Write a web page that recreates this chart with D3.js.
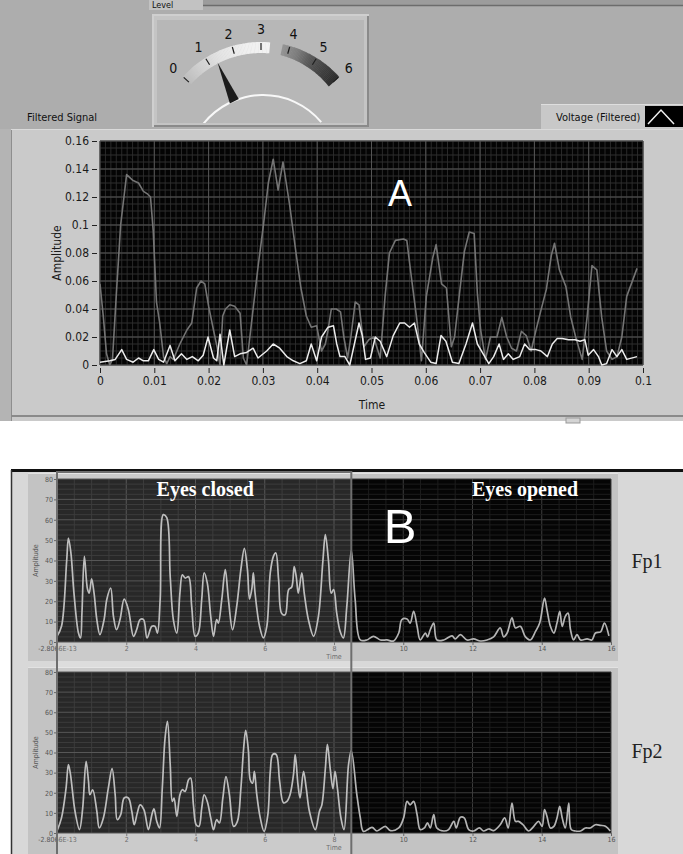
<!DOCTYPE html>
<html><head><meta charset="utf-8">
<script src="https://cdn.jsdelivr.net/npm/d3@7"></script>
<style>body{margin:0;background:#fff}svg{display:block}</style>
</head><body>
<svg id="c" width="683" height="854"></svg>
<script>
// ---------------- DATA ----------------
const gaugeTicks = [0,1,2,3,4,5,6];
const gaugeValue = 1.3;

const aXTicks = [0,0.01,0.02,0.03,0.04,0.05,0.06,0.07,0.08,0.09,0.1];
const aXTickLabels = ["0","0.01","0.02","0.03","0.04","0.05","0.06","0.07","0.08","0.09","0.1"];
const aYTicks = [0,0.02,0.04,0.06,0.08,0.1,0.12,0.14,0.16];
const aYTickLabels = ["0","0.02","0.04","0.06","0.08","0.1","0.12","0.14","0.16"];

// Panel A – raw voltage (dark grey trace), time in ms
const rawTimeMs = [0,0.6,1.2,1.8,2.3,3.0,3.8,4.9,6.0,7.1,8.0,8.8,9.3,9.8,10.4,11.0,11.7,12.3,12.9,13.5,14.7,16.0,16.9,17.8,18.6,19.3,20.0,20.9,21.6,22.1,22.6,23.1,23.9,24.8,25.8,26.4,27.0,27.9,29.1,30.1,31.0,31.9,32.8,33.7,34.9,36.1,37.0,38.0,38.9,39.9,40.8,41.5,42.0,42.6,43.5,44.3,44.9,45.6,46.2,47.0,47.7,48.6,49.5,50.4,51.6,52.5,53.3,54.4,55.9,56.5,57.4,58.3,59.2,60.1,61.3,61.9,62.9,63.8,64.7,65.3,66.2,67.1,68.0,68.9,69.5,70.1,71.0,71.9,73.1,74.0,74.9,75.8,76.7,77.6,78.5,79.4,80.3,81.2,82.2,83.1,83.7,84.6,85.8,86.7,87.6,88.8,89.7,90.6,91.5,92.4,93.3,94.3,95.2,96.1,97.0,98.9];
const rawAmp = [0.058,0.035,0.008,0.0,0.004,0.05,0.1,0.136,0.132,0.13,0.124,0.122,0.12,0.096,0.045,0.03,0.006,0.001,0.006,0.004,0.015,0.025,0.03,0.055,0.06,0.058,0.042,0.025,0.012,0.0,0.035,0.04,0.043,0.042,0.037,0.005,0.0,0.03,0.07,0.1,0.13,0.147,0.125,0.145,0.115,0.08,0.055,0.035,0.027,0.028,0.01,0.015,0.025,0.04,0.04,0.038,0.02,0.005,0.02,0.045,0.043,0.013,0.018,0.02,0.005,0.049,0.08,0.089,0.09,0.089,0.061,0.034,0.003,0.049,0.077,0.086,0.058,0.055,0.013,0.02,0.051,0.081,0.095,0.094,0.051,0.025,0.004,0.02,0.02,0.034,0.02,0.012,0.01,0.024,0.021,0.01,0.025,0.039,0.054,0.078,0.087,0.068,0.056,0.034,0.02,0.004,0.034,0.071,0.068,0.034,0.01,0.004,0.006,0.02,0.049,0.069];

// Panel A – filtered voltage (white trace)
const filtTimeMs = [0,1.8,2.8,4.0,4.9,6.1,7.1,8.0,8.9,9.9,10.8,11.7,12.9,13.8,15.0,16.0,17.0,18.1,19.0,19.9,20.9,21.5,22.1,22.8,23.9,24.8,25.8,27.0,28.2,29.1,30.7,31.9,33.1,34.4,35.6,36.8,38.0,38.9,39.9,40.8,42.0,43.0,43.6,44.2,45.1,46.0,47.7,48.3,48.9,49.8,50.7,51.6,52.8,54.0,55.2,56.1,57.0,57.9,58.8,59.7,60.9,61.9,62.8,63.7,64.9,66.1,67.4,68.6,69.5,70.4,71.6,72.5,73.5,74.3,75.2,76.1,77.3,78.2,79.1,80.3,81.2,82.4,83.3,84.2,85.1,86.3,87.5,88.4,89.3,89.9,90.9,91.8,92.4,93.3,94.3,95.2,96.1,97.0,98.9];
const filtAmp = [0.002,0.003,0.004,0.011,0.004,0.002,0.005,0.003,0.003,0.011,0.004,0.002,0.014,0.003,0.008,0.004,0.006,0.003,0.007,0.02,0.005,0.003,0.022,0.0,0.025,0.006,0.008,0.009,0.012,0.005,0.01,0.015,0.012,0.006,0.003,0.001,0.003,0.015,0.003,0.02,0.027,0.028,0.015,0.006,0.006,0.0,0.03,0.021,0.004,0.005,0.02,0.017,0.006,0.021,0.03,0.03,0.027,0.03,0.015,0.009,0.002,0.001,0.021,0.017,0.002,0.001,0.015,0.03,0.015,0.009,0.001,0.006,0.015,0.004,0.008,0.004,0.006,0.015,0.011,0.011,0.01,0.006,0.015,0.019,0.019,0.018,0.018,0.017,0.018,0.007,0.011,0.006,0.0,0.001,0.011,0.006,0.011,0.004,0.006];

// Panel B
const bXTicks = [2,4,6,8,10,12,14,16];
const bYTicks = [0,10,20,30,40,50,60,70,80];
const bFirstTickLabel = "-2.8066E-13";
const eyesClosedEnd = 8.5;
const channels = ["Fp1","Fp2"];

const fp1Time = [0,0.13,0.28,0.33,0.4,0.49,0.62,0.68,0.72,0.79,0.88,0.93,1.0,1.07,1.15,1.24,1.36,1.44,1.55,1.63,1.72,1.82,1.94,2.06,2.21,2.3,2.4,2.5,2.6,2.74,2.83,2.9,2.98,3.07,3.17,3.27,3.36,3.46,3.55,3.62,3.7,3.8,3.89,3.99,4.08,4.18,4.25,4.34,4.44,4.52,4.61,4.66,4.76,4.86,4.95,5.07,5.19,5.31,5.41,5.5,5.56,5.63,5.67,5.72,5.85,5.96,6.06,6.16,6.25,6.32,6.4,6.49,6.59,6.69,6.78,6.85,6.91,6.97,7.07,7.14,7.26,7.41,7.55,7.68,7.75,7.84,7.92,7.99,8.08,8.18,8.27,8.37,8.5,8.61,8.76,8.95,9.14,9.34,9.53,9.72,9.87,9.96,10.11,10.2,10.3,10.4,10.49,10.64,10.7,10.78,10.88,10.97,11.17,11.41,11.5,11.65,11.84,12.03,12.23,12.42,12.61,12.8,12.9,13.0,13.14,13.24,13.38,13.53,13.67,13.82,13.94,14.08,14.15,14.25,14.35,14.44,14.52,14.59,14.68,14.76,14.83,14.92,15.02,15.12,15.31,15.45,15.55,15.7,15.81,15.94];
const fp1Amp = [2.8,7.7,40,51,44,24,4.4,2,14,42,26,24,31,24,11,3.6,11,21,26.5,12.6,6,11,21,16,2.8,6,11,11,2,7.7,7.7,4.4,21,62.5,61,32,11,4.4,24,33,31.4,32,17.5,2.8,4.4,21,34,29,12.6,2.8,11,9.3,21,35.5,21,6,17.5,35.5,46,35.5,21,26.5,34,24,7.7,2,7.7,34,42,43.7,30.6,14,13.4,25.7,27,37,32,24,34,24,11,2.8,12.6,40,52.7,40,24,25.7,14,5,2,17.5,45,21,1,1,2.8,1,1,0.5,4.4,11,11.3,9.3,15,7.7,1,4.4,2.5,6,9.3,1,1,3,1.5,3.6,1,1.5,0.5,1,2.5,6.9,2.5,4.4,11.8,6.9,7.7,2.5,1,5.2,9.3,21.6,15.9,7.7,4.4,9.3,15,7.7,12.6,14.2,6,1,3.6,1,1.5,1,4.4,5,9.3,3];

const fp2Time = [0,0.13,0.26,0.33,0.39,0.52,0.65,0.74,0.84,0.91,0.95,1.03,1.15,1.22,1.34,1.48,1.59,1.68,1.74,1.84,1.94,2.06,2.16,2.23,2.32,2.4,2.51,2.64,2.74,2.8,2.88,2.96,3.04,3.12,3.19,3.27,3.33,3.38,3.46,3.55,3.62,3.7,3.8,3.86,3.94,4.02,4.1,4.18,4.25,4.34,4.44,4.52,4.61,4.69,4.79,4.88,4.98,5.1,5.21,5.31,5.39,5.45,5.53,5.58,5.65,5.7,5.77,5.87,5.98,6.09,6.16,6.23,6.33,6.43,6.54,6.64,6.73,6.83,6.88,6.96,7.02,7.12,7.2,7.29,7.46,7.58,7.65,7.75,7.81,7.89,7.97,8.03,8.1,8.2,8.29,8.42,8.5,8.66,8.76,8.85,9.1,9.24,9.48,9.63,9.87,10.01,10.11,10.2,10.3,10.4,10.49,10.61,10.7,10.78,10.88,10.97,11.17,11.31,11.46,11.53,11.65,11.76,11.89,12.03,12.2,12.32,12.47,12.61,12.8,12.93,13.03,13.14,13.24,13.33,13.46,13.62,13.77,13.91,14.01,14.08,14.15,14.25,14.35,14.44,14.52,14.59,14.68,14.78,14.85,14.97,15.12,15.26,15.4,15.55,15.7,15.84,15.98];
const fp2Amp = [1,7.5,22,34,29,10.8,1.7,12,35.6,25.7,19,21.5,10.8,2.5,7.5,22,32,19,6.6,9.1,17.4,17.4,10.8,4.1,10,14,11.6,1.7,9.1,12,5.8,2.5,22,47,55.5,34,15.7,17.4,8.3,19,21.5,20.7,26.5,27.3,14,4.1,3.3,12.4,19,15.7,7.5,1.7,6.6,5,17.4,28,19,3.3,5.8,22,42,51,40.6,26.5,24.8,30.6,19,7.5,0.8,9.1,30.6,39,39,25.7,15,15.7,19,29,39,24,17.4,30.6,22,10.8,1.7,10.8,14,32,44,32,22,30.6,22,7.5,1.7,34,41,19,7.5,0.8,2.8,1,3.3,1.2,2.5,7.5,15.7,14,15.7,9.1,1.7,2.5,5,2.5,9.1,2.5,1,1.7,5.8,2.5,7.8,7.5,1.7,1,2.5,1,2,1.2,4.1,7.5,2.5,14.9,5.8,5.8,4.1,1,3.3,5.8,3.3,11.6,8.3,2.5,3.3,7.5,13.2,7.5,2.5,14.9,1.7,1,1,2.5,2.5,4.1,3.8,3.3,1];

// ---------------- DRAW ----------------
const svg = d3.select("#c");
const defs = svg.append("defs");
const deg = Math.PI/180;

svg.append("rect").attr("width",683).attr("height",854).attr("fill","#ffffff");

// ===== Top region (gauge) =====
svg.append("rect").attr("x",0).attr("y",0).attr("width",683).attr("height",129).attr("fill","#adadad");
svg.append("rect").attr("x",203).attr("y",0).attr("width",480).attr("height",6).attr("fill","#9c9c9c");
svg.append("line").attr("x1",203).attr("x2",683).attr("y1",5.5).attr("y2",5.5).attr("stroke","#6c6c6c").attr("stroke-width",1.5);
svg.append("rect").attr("x",149).attr("y",0).attr("width",54).attr("height",10).attr("fill","#c2c2c2");
svg.append("text").attr("x",152).attr("y",8).attr("font-family","DejaVu Sans Condensed, sans-serif")
  .attr("font-size",9).attr("fill","#111").text("Level");

// gauge box
const gb = {x:152,y:14,w:217,h:113};
svg.append("rect").attr("x",gb.x).attr("y",gb.y).attr("width",gb.w).attr("height",gb.h).attr("fill","#cfcfcf");
svg.append("rect").attr("x",gb.x+2).attr("y",gb.y+2).attr("width",gb.w-2).attr("height",gb.h-2).attr("fill","#8a8a8a");
svg.append("rect").attr("x",gb.x+2).attr("y",gb.y+2).attr("width",gb.w-4).attr("height",gb.h-4).attr("fill","#c4c4c4");
svg.append("rect").attr("x",gb.x+5).attr("y",gb.y+6).attr("width",gb.w-10).attr("height",gb.h-10).attr("fill","#b7b7b7");
defs.append("clipPath").attr("id","gclip").append("rect")
  .attr("x",gb.x+5).attr("y",gb.y+6).attr("width",gb.w-10).attr("height",gb.h-10);

const gauge = svg.append("g").attr("clip-path","url(#gclip)");
const gc = {x:261, y:147};
const gAngle = d3.scaleLinear().domain([0,6]).range([-48*deg, 48*deg]);
const bandColor = d3.scaleLinear()
  .domain([0,0.6,1.5,2.5,3.3,3.75,4.3,4.8,5.4,6])
  .range(["#bdbdbd","#cfcfcf","#e4e4e4","#f0f0f0","#f3f3f3","#959595","#7e7e7e","#5a5a5a","#424242","#2c2c2c"]);
const step = 0.05;
const segs = d3.range(0,6,step).filter(s => s < 3.3 || s >= 3.75);
const arcGen = d3.arc();
gauge.append("g").attr("transform",`translate(${gc.x},${gc.y})`)
  .selectAll("path").data(segs).join("path")
  .attr("d", s => arcGen({innerRadius: 94 - (s>=3.75 ? (s-3.75)*1.4 : 0), outerRadius:105,
      startAngle:gAngle(s), endAngle:gAngle(Math.min(6,s+step))+0.004}))
  .attr("fill", s => bandColor(s+step/2));
// ticks
const polar = (r,a) => [gc.x + r*Math.sin(a), gc.y - r*Math.cos(a)];
gauge.selectAll("line.gt").data(gaugeTicks).join("line").attr("class","gt")
  .attr("x1",d=>polar(97,gAngle(d))[0]).attr("y1",d=>polar(97,gAngle(d))[1])
  .attr("x2",d=>polar(104,gAngle(d))[0]).attr("y2",d=>polar(104,gAngle(d))[1])
  .attr("stroke","#1e1e1e").attr("stroke-width",1.2);
gauge.selectAll("text.gl").data(gaugeTicks).join("text").attr("class","gl")
  .attr("x",d=>polar(118,gAngle(d))[0]).attr("y",d=>polar(118,gAngle(d))[1]+5)
  .attr("text-anchor","middle").attr("font-family","DejaVu Sans Condensed, sans-serif")
  .attr("font-size",14).attr("fill","#111").text(d=>d);
// inner pivot arc
const ag = defs.append("linearGradient").attr("id","arcG").attr("gradientUnits","userSpaceOnUse")
  .attr("x1",200).attr("x2",320).attr("y1",0).attr("y2",0);
ag.append("stop").attr("offset","0").attr("stop-color","#f8f8f8");
ag.append("stop").attr("offset","0.5").attr("stop-color","#d6d6d6");
ag.append("stop").attr("offset","1").attr("stop-color","#9c9c9c");
gauge.append("path").attr("transform","translate(263,171)")
  .attr("d", d3.arc()({innerRadius:75, outerRadius:77, startAngle:-52*deg, endAngle:50*deg}))
  .attr("fill","url(#arcG)");
// needle
const na = gAngle(gaugeValue);
const perp = na + Math.PI/2;
const baseC = polar(53, na - 3*deg);
const tip = polar(95, na);
const nb1 = [baseC[0] + 5*Math.sin(perp), baseC[1] - 5*Math.cos(perp)];
const nb2 = [baseC[0] - 5*Math.sin(perp), baseC[1] + 5*Math.cos(perp)];
gauge.append("path").attr("d", d3.line()([tip, nb1, nb2])+"Z").attr("fill","#1c1c1c");

// labels above panel A
svg.append("text").attr("x",27).attr("y",121).attr("font-family","DejaVu Sans Condensed, sans-serif")
  .attr("font-size",11).attr("fill","#111").text("Filtered Signal");
// legend
svg.append("rect").attr("x",541).attr("y",104).attr("width",142).attr("height",25).attr("fill","#c8c8c8");
svg.append("line").attr("x1",541).attr("x2",683).attr("y1",104.5).attr("y2",104.5).attr("stroke","#dedede");
svg.append("text").attr("x",556).attr("y",121).attr("font-family","DejaVu Sans Condensed, sans-serif")
  .attr("font-size",11).attr("fill","#111").text("Voltage (Filtered)");
svg.append("rect").attr("x",645).attr("y",106).attr("width",38).attr("height",21).attr("fill","#000");
svg.append("path").attr("d","M648,124 L661,110 L674,124").attr("fill","none").attr("stroke","#f0f0f0").attr("stroke-width",1.5);

// ===== Panel A =====
svg.append("rect").attr("x",0).attr("y",129).attr("width",683).attr("height",292).attr("fill","#cacaca");
svg.append("rect").attr("x",0).attr("y",129).attr("width",11).attr("height",292).attr("fill","#b4b4b4");
svg.append("line").attr("x1",11.5).attr("x2",11.5).attr("y1",129).attr("y2",421).attr("stroke","#8e8e8e");
svg.append("line").attr("x1",11).attr("x2",683).attr("y1",129.5).attr("y2",129.5).attr("stroke","#dadada");
svg.append("line").attr("x1",11).attr("x2",683).attr("y1",416).attr("y2",416).attr("stroke","#8a8a8a").attr("stroke-width",2);
svg.append("rect").attr("x",566).attr("y",418).attr("width",14).attr("height",5).attr("fill","#d4d4d4").attr("stroke","#999");

const xA = d3.scaleLinear().domain([0,0.1]).range([100,643]);
const yA = d3.scaleLinear().domain([0,0.16]).range([365,141]);
svg.append("rect").attr("x",xA(0)).attr("y",yA(0.16)).attr("width",xA(0.1)-xA(0)).attr("height",yA(0)-yA(0.16)).attr("fill","#040404");
const gA = svg.append("g");
gA.selectAll("line.mvx").data(d3.range(0,0.1001,0.001)).join("line")
  .attr("x1",d=>xA(d)).attr("x2",d=>xA(d)).attr("y1",yA(0.16)).attr("y2",yA(0))
  .attr("stroke","#2a2a2a").attr("stroke-width",1);
gA.selectAll("line.mhy").data(d3.range(0,0.1601,0.005)).join("line")
  .attr("y1",d=>yA(d)).attr("y2",d=>yA(d)).attr("x1",xA(0)).attr("x2",xA(0.1))
  .attr("stroke","#2e2e2e").attr("stroke-width",1);
gA.selectAll("line.Mx").data(aXTicks).join("line")
  .attr("x1",d=>xA(d)).attr("x2",d=>xA(d)).attr("y1",yA(0.16)).attr("y2",yA(0))
  .attr("stroke","#545454").attr("stroke-width",1);
gA.selectAll("line.My").data(aYTicks).join("line")
  .attr("y1",d=>yA(d)).attr("y2",d=>yA(d)).attr("x1",xA(0)).attr("x2",xA(0.1))
  .attr("stroke","#545454").attr("stroke-width",1);

defs.append("clipPath").attr("id","clipA").append("rect")
  .attr("x",xA(0)).attr("y",yA(0.16)).attr("width",xA(0.1)-xA(0)).attr("height",yA(0)-yA(0.16)+2);
const lineA = d3.line().x(d=>xA(d[0]/1000)).y(d=>yA(d[1]));
svg.append("path").datum(d3.zip(rawTimeMs,rawAmp)).attr("clip-path","url(#clipA)")
  .attr("d",lineA).attr("fill","none").attr("stroke","#747474").attr("stroke-width",1.6).attr("stroke-linejoin","round");
svg.append("path").datum(d3.zip(filtTimeMs,filtAmp)).attr("clip-path","url(#clipA)")
  .attr("d",lineA).attr("fill","none").attr("stroke","#ececec").attr("stroke-width",1.5).attr("stroke-linejoin","round");

// axes A
const axFont = "DejaVu Sans Condensed, sans-serif";
const xAxA = svg.append("g").attr("transform",`translate(0,${yA(0)+3})`)
  .call(d3.axisBottom(xA).tickValues(aXTicks).tickFormat((d,i)=>aXTickLabels[i]).tickSize(5).tickPadding(3));
const yAxA = svg.append("g").attr("transform",`translate(${xA(0)-3},0)`)
  .call(d3.axisLeft(yA).tickValues(aYTicks).tickFormat((d,i)=>aYTickLabels[i]).tickSize(5).tickPadding(3));
[xAxA,yAxA].forEach(g=>{
  g.select(".domain").remove();
  g.selectAll("line").attr("stroke","#222");
  g.selectAll("text").attr("font-family",axFont).attr("font-size",12).attr("fill","#1a1a1a");
});
svg.append("text").attr("transform",`translate(61,${(yA(0)+yA(0.16))/2}) rotate(-90)`)
  .attr("text-anchor","middle").attr("font-family",axFont).attr("font-size",12).attr("fill","#1a1a1a").text("Amplitude");
svg.append("text").attr("x",372).attr("y",409).attr("text-anchor","middle")
  .attr("font-family",axFont).attr("font-size",12).attr("fill","#1a1a1a").text("Time");
svg.append("text").attr("x",400).attr("y",206).attr("text-anchor","middle")
  .attr("font-family","Liberation Sans, Arial, sans-serif").attr("font-size",36).attr("fill","#ffffff").text("A");

// ===== Panel B =====
svg.append("rect").attr("x",12).attr("y",470).attr("width",671).attr("height",384).attr("fill","#d8d8d8");
svg.append("line").attr("x1",11).attr("x2",683).attr("y1",470.5).attr("y2",470.5).attr("stroke","#111").attr("stroke-width",3);
svg.append("line").attr("x1",11.5).attr("x2",11.5).attr("y1",470).attr("y2",854).attr("stroke","#333").attr("stroke-width",1.5);

const xB = d3.scaleLinear().domain([0,16]).range([57,611]);
const plotsB = [
  {name:channels[0], time:fp1Time, amp:fp1Amp, top:479, bottom:642, frameTop:473, frameBottom:661},
  {name:channels[1], time:fp2Time, amp:fp2Amp, top:672, bottom:833, frameTop:667, frameBottom:854}
];
plotsB.forEach((p,pi)=>{
  const y = d3.scaleLinear().domain([0,80]).range([p.bottom,p.top]);
  svg.append("rect").attr("x",28).attr("y",p.frameTop).attr("width",590).attr("height",p.frameBottom-p.frameTop).attr("fill","#c3c3c3");
  svg.append("line").attr("x1",28).attr("x2",618).attr("y1",p.frameTop+0.5).attr("y2",p.frameTop+0.5).attr("stroke","#e2e2e2");
  svg.append("rect").attr("x",xB(0)).attr("y",y(80)).attr("width",xB(16)-xB(0)).attr("height",y(0)-y(80)).attr("fill","#050505");
  const g = svg.append("g");
  g.selectAll("line.vx").data(d3.range(0,16.01,0.5)).join("line")
    .attr("x1",d=>xB(d)).attr("x2",d=>xB(d)).attr("y1",y(80)).attr("y2",y(0))
    .attr("stroke", d=> (d%2===0) ? "#3c3c3c" : "#1d1d1d");
  g.selectAll("line.hy").data(d3.range(0,80.01,2.5)).join("line")
    .attr("y1",d=>y(d)).attr("y2",d=>y(d)).attr("x1",xB(0)).attr("x2",xB(16))
    .attr("stroke", d=> (d%10===0) ? "#3c3c3c" : "#1d1d1d");
  const cid = "clipB"+pi;
  defs.append("clipPath").attr("id",cid).append("rect")
    .attr("x",xB(0)).attr("y",y(80)).attr("width",xB(16)-xB(0)).attr("height",y(0)-y(80));
  svg.append("path").datum(d3.zip(p.time,p.amp)).attr("clip-path",`url(#${cid})`)
    .attr("d", d3.line().x(d=>xB(d[0])).y(d=>y(d[1])).curve(d3.curveCatmullRom.alpha(0.5)))
    .attr("fill","none").attr("stroke","#b4b4b4").attr("stroke-width",1.7);
  // axes
  const xa = svg.append("g").attr("transform",`translate(0,${y(0)})`)
    .call(d3.axisBottom(xB).tickValues([0].concat(bXTicks)).tickFormat(d=> d===0 ? bFirstTickLabel : d).tickSize(3).tickPadding(1));
  const ya = svg.append("g").attr("transform",`translate(${xB(0)},0)`)
    .call(d3.axisLeft(y).tickValues(bYTicks).tickSize(3).tickPadding(1));
  [xa,ya].forEach(a=>{
    a.select(".domain").remove();
    a.selectAll("line").attr("stroke","#666");
    a.selectAll("text").attr("font-family",axFont).attr("font-size",7).attr("fill","#555");
  });
  svg.append("text").attr("transform",`translate(38,${(p.top+p.bottom)/2}) rotate(-90)`)
    .attr("text-anchor","middle").attr("font-family",axFont).attr("font-size",7).attr("fill","#555").text("Amplitude");
  svg.append("text").attr("x",xB(8)).attr("y",y(0)+17).attr("text-anchor","middle")
    .attr("font-family",axFont).attr("font-size",7).attr("fill","#555").text("Time");
  svg.append("text").attr("x",647).attr("y",pi===0?568:758).attr("text-anchor","middle")
    .attr("font-family","Liberation Serif, Times New Roman, serif").attr("font-size",20).attr("fill","#222").text(p.name);
});
// eyes-closed highlight box
svg.append("rect").attr("x",xB(0)).attr("y",472).attr("width",xB(eyesClosedEnd)-xB(0)).attr("height",384)
  .attr("fill","#ffffff").attr("fill-opacity",0.14).attr("stroke","#6e6e6e").attr("stroke-width",2);
svg.append("text").attr("x",(xB(0)+xB(eyesClosedEnd))/2+1).attr("y",496).attr("text-anchor","middle")
  .attr("font-family","Liberation Serif, Times New Roman, serif").attr("font-weight","bold").attr("font-size",20)
  .attr("fill","#ffffff").text("Eyes closed");
svg.append("text").attr("x",525).attr("y",496).attr("text-anchor","middle")
  .attr("font-family","Liberation Serif, Times New Roman, serif").attr("font-weight","bold").attr("font-size",20)
  .attr("fill","#ffffff").text("Eyes opened");
svg.append("text").attr("x",400).attr("y",543).attr("text-anchor","middle")
  .attr("font-family","Liberation Sans, Arial, sans-serif").attr("font-size",49).attr("fill","#ffffff").text("B");
</script>
</body></html>
